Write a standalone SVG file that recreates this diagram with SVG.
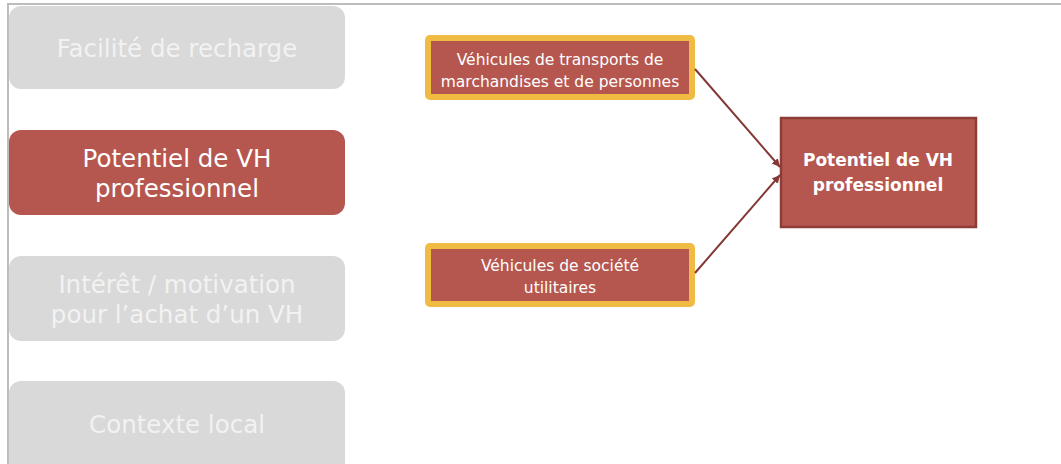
<svg xmlns="http://www.w3.org/2000/svg" width="1061" height="464" viewBox="0 0 1061 464">
<defs>
<style>
.frame{fill:none;stroke:#bdbdbd;stroke-width:2}
.cat{fill:#d9d9d9}
.cat-on{fill:#b5574f}
.cat-t{font-family:"DejaVu Sans","Open Sans",sans-serif;font-size:24.5px;fill:#f2f2f2;text-anchor:middle}
.cat-on-t{fill:#ffffff}
.src{fill:#b5574f;stroke:#f0bb42;stroke-width:6}
.src-t{font-family:"DejaVu Sans","Open Sans",sans-serif;font-size:15.5px;fill:#ffffff;text-anchor:middle}
.dst{fill:#b5574f;stroke:#8e3c37;stroke-width:2.5}
.dst-t{font-family:"DejaVu Sans","Open Sans",sans-serif;font-size:17px;font-weight:bold;fill:#ffffff;text-anchor:middle}
.conn{fill:none;stroke:#833833;stroke-width:2}
</style>
<marker id="arr" markerWidth="10" markerHeight="10" refX="8" refY="5" orient="auto" markerUnits="userSpaceOnUse">
<path d="M0,1 L8,5 L0,9 Z" fill="#833833"/>
</marker>
</defs>
<rect width="1061" height="464" fill="#ffffff"/>
<path class="frame" d="M8,464 L8,4 L1061,4"/>
<g id="n-facilite">
<rect class="cat" x="9" y="6" width="336" height="83" rx="12"/>
<text class="cat-t" x="177" y="57">Facilité de recharge</text>
</g>
<g id="n-potentiel">
<rect class="cat-on" x="9" y="130" width="336" height="85" rx="12"/>
<text class="cat-t cat-on-t" x="177" y="167">Potentiel de VH</text>
<text class="cat-t cat-on-t" x="177" y="197">professionnel</text>
</g>
<g id="n-interet">
<rect class="cat" x="9" y="256" width="336" height="85" rx="12"/>
<text class="cat-t" x="177" y="293">Intérêt / motivation</text>
<text class="cat-t" x="177" y="323">pour l’achat d’un VH</text>
</g>
<g id="n-contexte">
<rect class="cat" x="9" y="381" width="336" height="95" rx="12"/>
<text class="cat-t" x="177" y="433">Contexte local</text>
</g>
<g id="n-transport">
<rect class="src" x="428" y="38" width="264" height="59" rx="2"/>
<text class="src-t" x="560" y="65">Véhicules de transports de</text>
<text class="src-t" x="560" y="87">marchandises et de personnes</text>
</g>
<g id="n-societe">
<rect class="src" x="428" y="246" width="264" height="58" rx="2"/>
<text class="src-t" x="560" y="271">Véhicules de société</text>
<text class="src-t" x="560" y="293">utilitaires</text>
</g>
<g id="n-cible">
<rect class="dst" x="781" y="118" width="195" height="109"/>
<text class="dst-t" x="878" y="166">Potentiel de VH</text>
<text class="dst-t" x="878" y="191">professionnel</text>
</g>
<g id="connectors">
<line class="conn" x1="695" y1="69" x2="780" y2="167" marker-end="url(#arr)"/>
<line class="conn" x1="695" y1="273" x2="780" y2="175" marker-end="url(#arr)"/>
</g>
</svg>
